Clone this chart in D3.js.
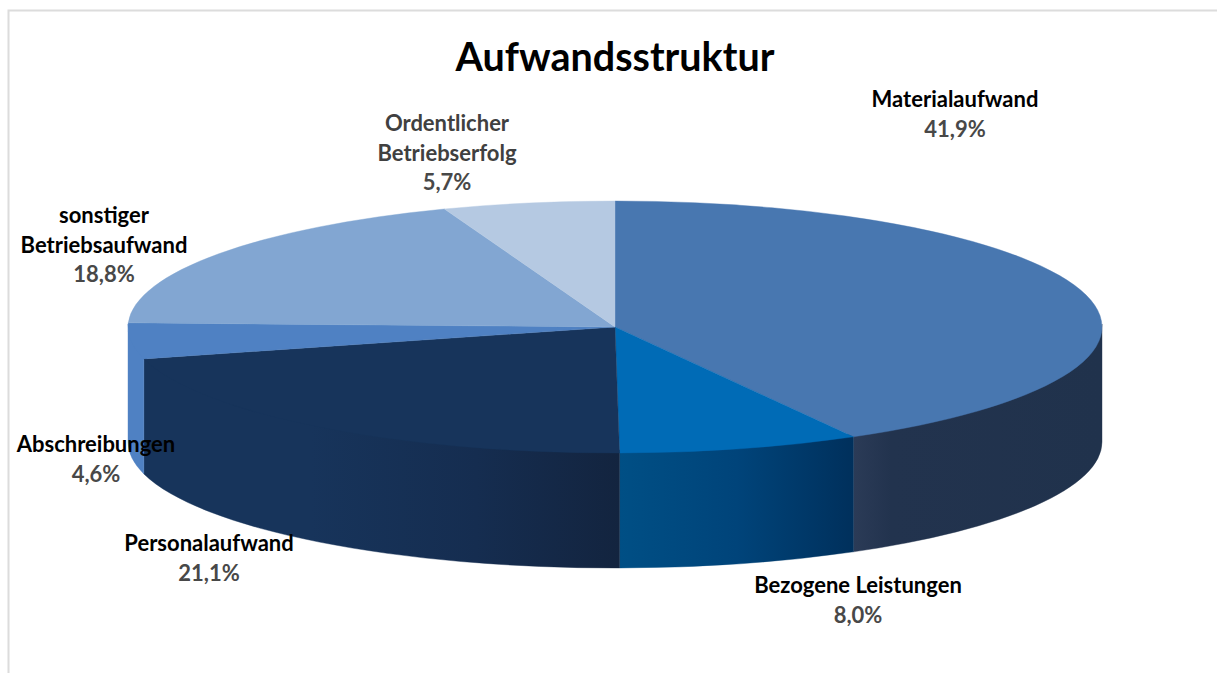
<!DOCTYPE html>
<html><head><meta charset="utf-8">
<style>html,body{margin:0;padding:0;background:#fff}svg{display:block}</style>
<script src="https://cdn.jsdelivr.net/npm/d3@7/dist/d3.min.js"></script>
</head><body><svg id="c" width="1217" height="673"></svg>
<script>
const categories = [["Materialaufwand"],["Bezogene Leistungen"],["Personalaufwand"],["Abschreibungen"],["sonstiger","Betriebsaufwand"],["Ordentlicher","Betriebserfolg"]];
const values = [41.9,8.0,21.1,4.6,18.8,5.7];
const valueLabels = ["41,9%","8,0%","21,1%","4,6%","18,8%","5,7%"];
const title = "Aufwandsstruktur";

const topColors = ["#4877b0","#006bb6","#17345b","#4f81c3","#82a6d2","#b5c9e2"];
const wallStops = [
  [[0,"#2b3b57"],[0.15,"#22334e"],[1,"#20324c"]],
  [[0,"#004f85"],[0.5,"#00447a"],[1,"#00305c"]],
  [[0,"#17345b"],[0.35,"#17345b"],[0.7,"#152d50"],[1,"#13243f"]],
  [[0,"#4f81c3"],[1,"#4f81c3"]],
  null,null];
const nameColors = ["#000","#000","#000","#000","#000","#404040"];
const labelPos = [[955,107],[858,593],[209,551],[96,452],[104,223],[447,131]];

const W=1217,H=673,cx=615,cy=327,rx=487,ry=126,depth=115;
const font="Lato, Carlito, sans-serif";
const svg=d3.select("#c");
const defs=svg.append("defs");

// frame: top and left rule only
svg.append("path").attr("d",`M8.5,${H} V10.5 H${W}`).attr("fill","none").attr("stroke","#dcdcdc").attr("stroke-width",2);

const pie=d3.pie().sort(null).value(d=>d)(values);
const px=t=>cx+rx*Math.sin(t), py=t=>cy-ry*Math.cos(t);

// walls: only the near half of the rim is visible
const bleed=3; // wall tucks under the top face so no seam shows
pie.forEach((s,i)=>{
  if(!wallStops[i])return;
  const a=Math.max(s.startAngle,Math.PI/2), b=Math.min(s.endAngle,3*Math.PI/2);
  if(b<=a)return;
  const id="w"+i;
  const g=defs.append("linearGradient").attr("id",id).attr("gradientUnits","userSpaceOnUse")
    .attr("x1",Math.min(px(a),px(b))).attr("x2",Math.max(px(a),px(b))).attr("y1",0).attr("y2",0);
  wallStops[i].forEach(([o,c])=>g.append("stop").attr("offset",o).attr("stop-color",c));
  const d=`M${px(a)},${py(a)-bleed} A${rx},${ry} 0 0 1 ${px(b)},${py(b)-bleed} L${px(b)},${py(b)+depth} A${rx},${ry} 0 0 0 ${px(a)},${py(a)+depth} Z`;
  svg.append("path").attr("d",d).attr("fill",`url(#${id})`).attr("stroke",`url(#${id})`).attr("stroke-width",0.4);
});
const arc=d3.arc().innerRadius(0).outerRadius(rx);
const topFace=svg.append("g").attr("transform",`translate(${cx},${cy}) scale(1,${ry/rx})`);
topFace.selectAll("path").data(pie).join("path").attr("d",arc)
  .attr("fill",(d,i)=>topColors[i]).attr("stroke",(d,i)=>topColors[i])
  .attr("stroke-width",0.4).attr("vector-effect","non-scaling-stroke");

// texts
svg.append("text").attr("x",615).attr("y",71).attr("text-anchor","middle").attr("font-family",font).attr("font-weight",700).attr("font-size",39.5).attr("fill","#000").text(title);
const lh=29.5;
categories.forEach((lines,i)=>{
  const [x,y]=labelPos[i];
  const t=svg.append("text").attr("text-anchor","middle").attr("font-family",font).attr("font-weight",700).attr("font-size",22);
  lines.forEach((l,k)=>t.append("tspan").attr("x",x).attr("y",y+k*lh).attr("fill",nameColors[i]).text(l));
  t.append("tspan").attr("x",x).attr("y",y+lines.length*lh).attr("fill","#484848").text(valueLabels[i]);
});
</script></body></html>
